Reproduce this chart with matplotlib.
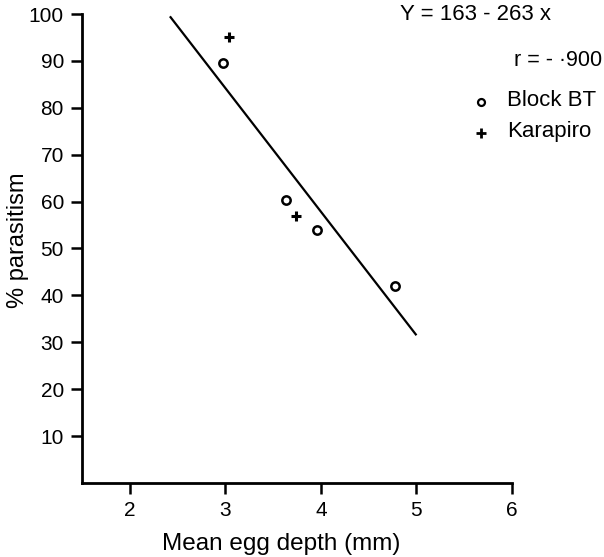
import matplotlib
matplotlib.use("Agg")
from matplotlib import pyplot as plt

plt.rcParams['font.family'] = ['Liberation Sans', 'DejaVu Sans']

# Block BT points (open circles)
block_x = [2.98, 3.63, 3.96, 4.78]
block_y = [89.6, 60.3, 53.9, 42.0]

# Karapiro points (plus signs)
kara_x = [3.04, 3.74]
kara_y = [95.0, 57.0]

# Regression line end points
line_x = [2.42, 5.0]
line_y = [99.5, 31.5]

xticks = [2, 3, 4, 5, 6]
yticks = [10, 20, 30, 40, 50, 60, 70, 80, 90, 100]

W, H = 604, 557
fig = plt.figure(figsize=(W / 100.0, H / 100.0), dpi=100)
ax = fig.add_axes([82.0 / W, 1 - 483.0 / H, (512.0 - 82.0) / W, (483.0 - 14.0) / H])

ax.plot(line_x, line_y, color='black', lw=1.6, solid_capstyle='butt')
ax.plot(block_x, block_y, 'o', ms=6, mfc='white', mec='black', mew=1.8, ls='none')
ax.plot(kara_x, kara_y, '+', ms=7, mec='black', mew=2.2, ls='none')

ax.set_xlim(1.5, 6.0)
ax.set_ylim(0, 100)
ax.set_xticks(xticks)
ax.set_yticks(yticks)
ax.tick_params(axis='both', direction='out', length=8, width=1.8, labelsize=15, pad=5, color='black')

for s in ['top', 'right']:
    ax.spines[s].set_visible(False)
for s in ['left', 'bottom']:
    ax.spines[s].set_linewidth(2)

fig.text(18.0 / W, 1 - 240.0 / H, "% parasitism", rotation=90, fontsize=17, ha='center', va='center')
fig.text(281.0 / W, 1 - 544.0 / H, "Mean egg depth (mm)", fontsize=17.5, ha='center', va='center')

fig.text(476.0 / W, 1 - 15.0 / H, "Y = 163 - 263 x", fontsize=16, ha='center', va='center')
fig.text(602.0 / W, 1 - 61.0 / H, "r = - \u00b7900", fontsize=15.5, ha='right', va='center')
fig.text(507.0 / W, 1 - 100.0 / H, "Block BT", fontsize=16, ha='left', va='center')
fig.text(507.0 / W, 1 - 131.0 / H, "Karapiro", fontsize=16, ha='left', va='center')
fig.lines.append(plt.Line2D([481.0 / W], [1 - 102.0 / H], marker='o', ms=5, mfc='white',
                            mec='black', mew=1.6, transform=fig.transFigure, ls='none'))
fig.lines.append(plt.Line2D([481.0 / W], [1 - 133.0 / H], marker='+', ms=7, mec='black',
                            mew=2.0, transform=fig.transFigure, ls='none'))

fig.savefig("out.png", dpi=100)
